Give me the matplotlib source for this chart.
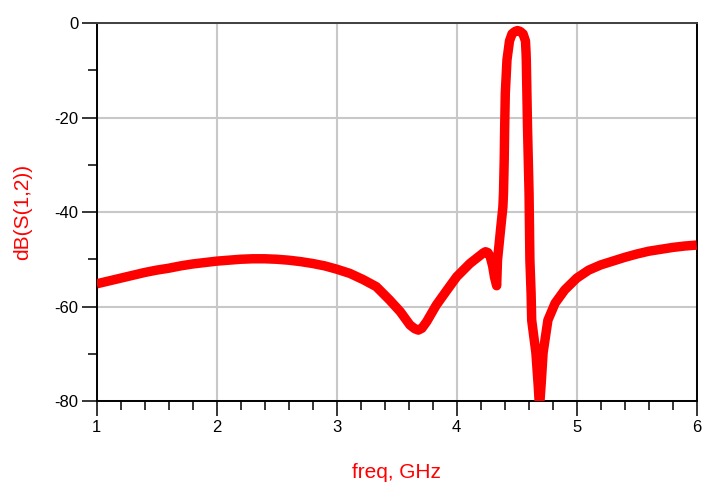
import matplotlib
matplotlib.use("Agg")
import matplotlib.pyplot as plt
from matplotlib.ticker import MultipleLocator

freq_ghz = [1.00, 1.10, 1.20, 1.30, 1.40, 1.50, 1.60, 1.70, 1.80, 1.90,
            2.00, 2.10, 2.20, 2.30, 2.40, 2.50, 2.60, 2.70, 2.80, 2.90,
            3.00, 3.11, 3.22, 3.33, 3.44, 3.53, 3.61, 3.65, 3.68, 3.71,
            3.75, 3.83, 3.92, 4.00, 4.11, 4.22, 4.24, 4.26, 4.28, 4.30,
            4.315, 4.333, 4.34, 4.368, 4.385, 4.39, 4.396, 4.40, 4.405, 4.419,
            4.44, 4.461, 4.485, 4.507, 4.53, 4.553, 4.573, 4.578, 4.58, 4.59,
            4.603, 4.61, 4.62, 4.625, 4.66, 4.68, 4.69, 4.705, 4.72, 4.76,
            4.82, 4.90, 5.00, 5.10, 5.20, 5.30, 5.40, 5.50, 5.60, 5.70,
            5.80, 5.90, 6.00]
s12_db = [-55.2, -54.6, -54.0, -53.4, -52.8, -52.3, -51.9, -51.4, -51.0, -50.7,
          -50.4, -50.2, -50.0, -49.9, -49.9, -50.0, -50.2, -50.5, -50.9, -51.4,
          -52.1, -53.0, -54.3, -55.8, -58.6, -61.1, -63.9, -64.7, -65.0, -64.6,
          -63.2, -59.7, -56.5, -53.7, -50.9, -48.7, -48.4, -48.6, -49.5, -51.5,
          -53.8, -55.6, -50.2, -43.1, -38.9, -36.0, -29.0, -21.9, -14.9, -7.8,
          -3.8, -2.3, -1.8, -1.6, -1.8, -2.3, -3.8, -6.3, -7.8, -21.9,
          -36.0, -50.2, -57.2, -62.9, -69.8, -77.0, -81.5, -76.0, -69.8, -62.9,
          -59.3, -56.5, -54.0, -52.3, -51.2, -50.4, -49.6, -48.9, -48.3, -47.9,
          -47.5, -47.2, -47.0]

xticks = [1, 2, 3, 4, 5, 6]
yticks = [-80, -60, -40, -20, 0]

plt.rcParams['font.family'] = ['Liberation Sans', 'DejaVu Sans']

fig = plt.figure(figsize=(7.23, 4.84), dpi=100)
ax = fig.add_axes([96.7/723, 83/484, 600/723, 378/484])

ax.plot(freq_ghz, s12_db, color='#ff0000', lw=6.8, solid_joinstyle='round',
        solid_capstyle='butt', zorder=3)

ax.set_xlim(1, 6)
ax.set_ylim(-80, 0)
ax.set_xticks(xticks)
ax.set_yticks(yticks)
ax.set_xticklabels([str(t) for t in xticks])
ax.set_yticklabels([str(t) for t in yticks])
ax.xaxis.set_minor_locator(MultipleLocator(0.2))
ax.yaxis.set_minor_locator(MultipleLocator(10))

ax.grid(True, which='major', color='#c8c8c8', lw=1.5, zorder=0)
ax.set_axisbelow(True)

ax.tick_params(which='major', direction='out', length=11, width=1.1,
               labelsize=12, colors='black', pad=3)
ax.tick_params(which='minor', direction='out', length=6.5, width=1.1)
ax.tick_params(axis='y', which='major', pad=2)
ax.tick_params(top=False, right=False, which='both')

for sp in ax.spines.values():
    sp.set_linewidth(1.4)
    sp.set_color('black')
ax.spines['top'].set_color('#404040')

ax.set_xlabel('freq, GHz', color='#ff0000', fontsize=15, va='top')
ax.xaxis.set_label_coords(0.5, -0.164)
ax.set_ylabel('dB(S(1,2))', color='#ff0000', fontsize=15, va='center')
ax.yaxis.set_label_coords(-0.123, 0.5)

fig.savefig('out.png', dpi=100)
